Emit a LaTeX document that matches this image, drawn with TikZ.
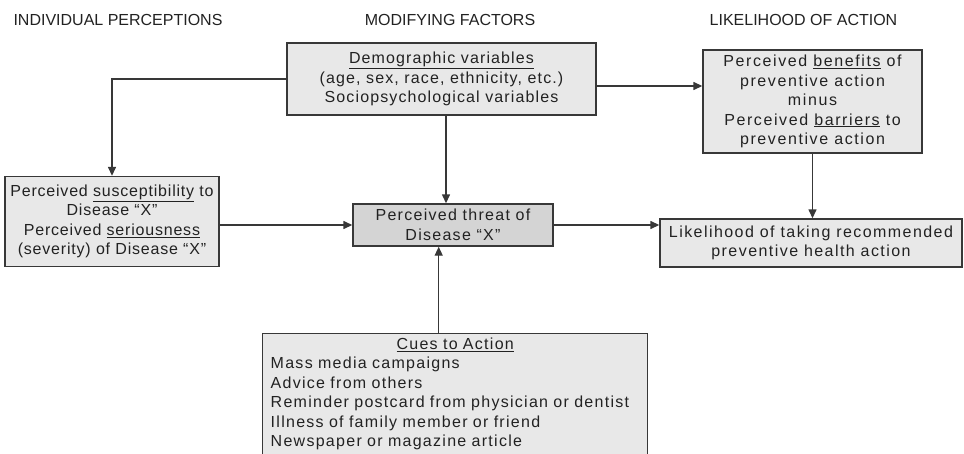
\documentclass[tikz,border=0pt]{standalone}
\usepackage{fontspec}
\setmainfont{Liberation Sans}
\usetikzlibrary{arrows.meta}

\definecolor{boxfill}{HTML}{E8E8E8}
\definecolor{threatfill}{HTML}{D4D4D4}
\definecolor{edge}{HTML}{383838}
\definecolor{ink}{HTML}{222222}

% letter-spaced sans faces for the box texts
\newfontfamily\trackE[LetterSpace=5]{Liberation Sans}
\newfontfamily\trackG[LetterSpace=7]{Liberation Sans}
\newfontfamily\trackH[LetterSpace=8]{Liberation Sans}
\newfontfamily\trackI[LetterSpace=9]{Liberation Sans}
\newfontfamily\trackJ[LetterSpace=10]{Liberation Sans}

\begin{document}
\begin{tikzpicture}[x=1pt,y=-1pt,
  head/.style={text=ink, font=\fontsize{16}{19}\selectfont},
  factor/.style={draw=edge, line width=1.4pt, fill=boxfill, text=ink,
    align=center, inner sep=0pt},
  fs/.style={font=#1\fontsize{16}{19.5}\selectfont},
  arr/.style={draw=edge, line width=1.4pt, -{Triangle[length=9pt,width=8pt]}}
]
\useasboundingbox (0,0) rectangle (964,453);
\fill[white] (0,0) rectangle (964,453);

% column headings
\node[head] (h1) at (118,20) {INDIVIDUAL PERCEPTIONS};
\node[head] (h2) at (450,20) {MODIFYING FACTORS};
\node[head] (h3) at (803.5,20) {LIKELIHOOD OF ACTION};

% boxes
\node[factor, fs=\trackG, minimum width=309pt, minimum height=72pt] (demo) at (441.5,79)
  {\underline{Demographic variables}\\(age, sex, race, ethnicity, etc.)\\Sociopsychological variables};

\node[factor, fs=\trackJ, minimum width=219pt, minimum height=103pt] (benef) at (812.5,101.5)
  {Perceived \underline{benefits} of\\preventive action\\minus\\Perceived \underline{barriers} to\\preventive action};

\node[factor, fs=\trackE, minimum width=214pt, minimum height=90pt] (susc) at (112,221.5)
  {Perceived \underline{susceptibility} to\\Disease “X”\\Perceived \underline{seriousness}\\(severity) of Disease “X”};

\node[factor, fs=\trackH, fill=threatfill, minimum width=200pt, minimum height=42pt] (threat) at (453,225)
  {Perceived threat of\\Disease “X”};

\node[factor, fs=\trackI, minimum width=302pt, minimum height=48pt] (lik) at (811,243)
  {Likelihood of taking recommended\\preventive health action};

\node[factor, fs=\trackH, anchor=north west, align=left, text width=369pt,
      inner xsep=8pt, inner ysep=4pt] (cues) at (262,333)
  {\makebox[369pt][c]{\underline{Cues to Action}}\\
   Mass media campaigns\\
   Advice from others\\
   Reminder postcard from physician or dentist\\
   Illness of family member or friend\\
   Newspaper or magazine article\\
   \mbox{}};

% connectors
\draw[arr] (demo.west) -| (susc.north);
\draw[arr] ([xshift=4.5pt]demo.south) -- ([xshift=4.5pt]demo.south |- threat.north);
\draw[arr] ([yshift=-7pt]demo.east) -- ([yshift=-7pt]demo.east -| benef.west);
\draw[arr] (susc.east |- threat.west) -- (threat.west);
\draw[arr] (benef.south) -- (benef.south |- lik.north);
\draw[arr] (threat.east) -- (threat.east -| lik.west);
\draw[arr] ([xshift=-16.5pt]cues.north) -- ([xshift=-16.5pt]cues.north |- threat.south);
\end{tikzpicture}
\end{document}
